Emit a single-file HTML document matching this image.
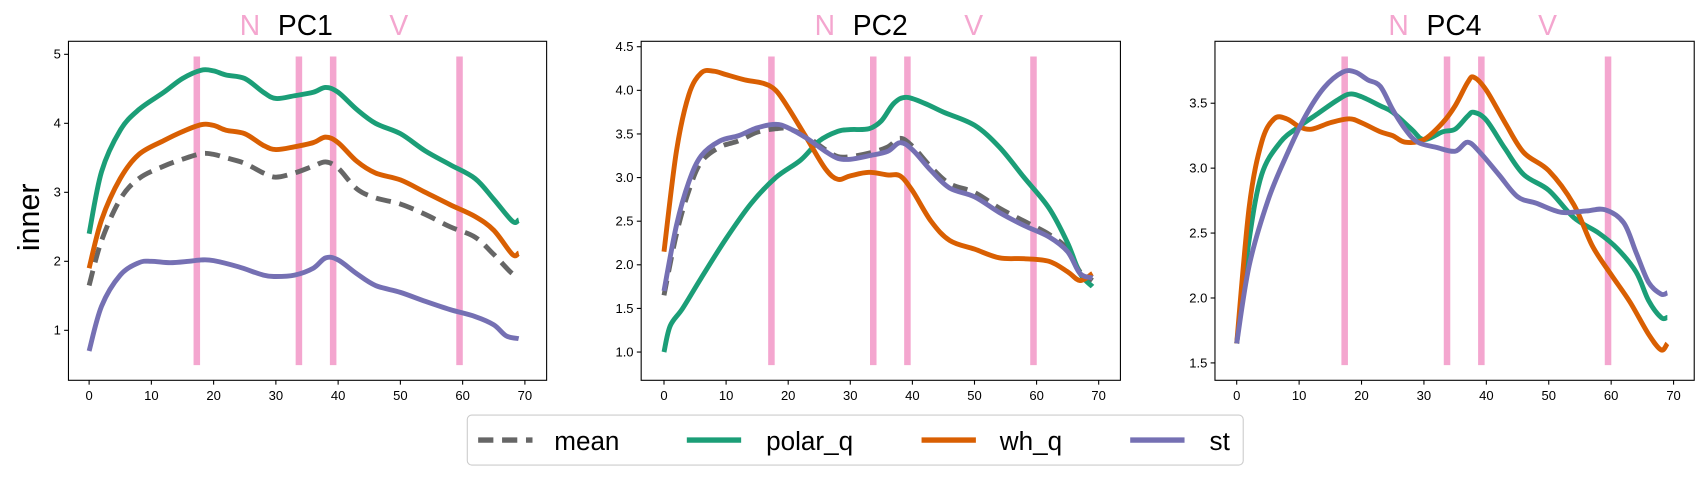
<!DOCTYPE html>
<html><head><meta charset="utf-8"><style>
body{margin:0;background:#fff;}
svg text{font-family:"Liberation Sans","DejaVu Sans",sans-serif;}
</style></head><body>
<svg id="chart" width="1704" height="477" viewBox="0 0 1568 439" preserveAspectRatio="none" xmlns="http://www.w3.org/2000/svg">
<text x="0" y="0" transform="translate(36,200) rotate(-90)" font-size="28" text-anchor="middle">inner</text>
<g>
<rect x="430" y="382" width="714" height="46" rx="4" fill="#fff" stroke="#ccc"/>
<g><line x1="440" y1="405" x2="490" y2="405" stroke="#666" stroke-width="5" stroke-dasharray="14,8"/><text x="510" y="414" font-size="24">mean</text></g>
<g><line x1="632" y1="405" x2="682" y2="405" stroke="#1b9e77" stroke-width="5"/><text x="705" y="414" font-size="24">polar_q</text></g>
<g><line x1="848" y1="405" x2="898" y2="405" stroke="#d95f02" stroke-width="5"/><text x="920" y="414" font-size="24">wh_q</text></g>
<g><line x1="1040" y1="405" x2="1090" y2="405" stroke="#7570b3" stroke-width="5"/><text x="1113" y="414" font-size="24">st</text></g>
</g>
</svg>
<script>
const vlines=[17.3,33.7,39.2,59.5];
const p1Mean=[[0,1.65],[2,2.3],[5,2.9],[8,3.2],[12,3.38],[15,3.48],[18,3.56],[20,3.55],[22,3.5],[25,3.42],[28,3.28],[30,3.22],[33,3.28],[36,3.38],[38,3.44],[40,3.35],[43,3.05],[46,2.92],[50,2.83],[54,2.68],[58,2.5],[62,2.35],[65,2.1],[68,1.82],[69,1.82]];
const p1Polar=[[0,2.4],[2,3.3],[5,3.9],[8,4.2],[12,4.45],[15,4.65],[18,4.77],[20,4.76],[22,4.7],[25,4.65],[28,4.45],[30,4.36],[33,4.4],[36,4.45],[38,4.52],[40,4.45],[43,4.2],[46,4.0],[50,3.85],[54,3.6],[58,3.4],[62,3.2],[65,2.9],[68,2.58],[69,2.6]];
const p1Wh=[[0,1.9],[2,2.6],[5,3.2],[8,3.55],[12,3.75],[15,3.88],[18,3.98],[20,3.97],[22,3.9],[25,3.85],[28,3.68],[30,3.62],[33,3.66],[36,3.72],[38,3.8],[40,3.72],[43,3.45],[46,3.28],[50,3.18],[54,3.0],[58,2.82],[62,2.65],[65,2.45],[68,2.1],[69,2.12]];
const p1St=[[0,0.7],[2,1.35],[5,1.8],[8,1.98],[10,2.0],[13,1.98],[16,2.0],[18,2.02],[20,2.01],[24,1.92],[28,1.8],[30,1.78],[33,1.8],[36,1.9],[38,2.05],[40,2.02],[43,1.82],[46,1.65],[50,1.55],[54,1.42],[58,1.3],[62,1.2],[65,1.08],[67,0.92],[69,0.88]];
const p2Mean=[[0,1.65],[2,2.35],[4,2.85],[6,3.18],[9,3.35],[12,3.42],[15,3.52],[18,3.56],[20,3.56],[23,3.47],[26,3.32],[28,3.24],[30,3.24],[33,3.28],[36,3.35],[38,3.45],[40,3.36],[43,3.12],[46,2.93],[50,2.83],[54,2.65],[58,2.5],[62,2.35],[65,2.18],[67,1.92],[69,1.82]];
const p2Polar=[[0,1.0],[1,1.3],[3,1.5],[6,1.85],[10,2.3],[14,2.7],[18,3.0],[22,3.2],[25,3.42],[28,3.53],[30,3.55],[33,3.56],[35,3.65],[37,3.85],[39,3.92],[42,3.85],[45,3.75],[50,3.6],[54,3.35],[58,3.0],[62,2.65],[65,2.25],[67,1.9],[69,1.75]];
const p2Wh=[[0,2.15],[2,3.3],[4,3.95],[6,4.2],[8,4.22],[10,4.18],[13,4.12],[16,4.08],[18,4.0],[20,3.8],[23,3.45],[26,3.1],[28,2.98],[30,3.02],[33,3.06],[36,3.03],[38,3.02],[40,2.85],[43,2.5],[46,2.28],[50,2.18],[54,2.08],[58,2.07],[62,2.04],[65,1.92],[67,1.82],[69,1.9]];
const p2St=[[0,1.7],[2,2.45],[4,2.95],[6,3.25],[9,3.42],[12,3.48],[15,3.57],[18,3.61],[20,3.57],[23,3.45],[26,3.3],[28,3.22],[30,3.21],[33,3.25],[36,3.3],[38,3.4],[40,3.32],[43,3.08],[46,2.88],[50,2.78],[54,2.6],[58,2.45],[62,2.32],[65,2.15],[67,1.9],[69,1.85]];
const p3Polar=[[0,1.65],[2,2.45],[4,2.95],[7,3.2],[10,3.32],[13,3.42],[16,3.52],[18,3.57],[20,3.55],[23,3.48],[25,3.43],[28,3.3],[30,3.22],[33,3.28],[35,3.3],[37,3.4],[38,3.43],[40,3.37],[43,3.15],[46,2.95],[50,2.83],[54,2.62],[58,2.5],[61,2.38],[64,2.2],[66,1.98],[68,1.85],[69,1.85]];
const p3Mean=p3Polar;
const p3Wh=[[0,1.65],[2,2.7],[4,3.2],[6,3.38],[8,3.38],[10,3.32],[12,3.3],[15,3.35],[18,3.38],[20,3.35],[23,3.28],[25,3.25],[27,3.2],[30,3.22],[33,3.35],[35,3.48],[37,3.66],[38,3.7],[40,3.6],[43,3.35],[46,3.12],[50,2.98],[54,2.72],[57,2.4],[60,2.18],[63,1.97],[66,1.72],[68,1.6],[69,1.65]];
const p3St=[[0,1.65],[2,2.25],[5,2.75],[8,3.1],[11,3.4],[14,3.62],[17,3.74],[19,3.74],[21,3.68],[23,3.63],[25,3.45],[27,3.3],[29,3.2],[32,3.16],[35,3.13],[37,3.2],[39,3.12],[42,2.95],[45,2.78],[48,2.73],[52,2.66],[56,2.67],[59,2.68],[62,2.58],[64,2.35],[66,2.12],[68,2.03],[69,2.04]];
const xTicks=[0,10,20,30,40,50,60,70];
const yTicks1=[1,2,3,4,5], yTicks2=[1.0,1.5,2.0,2.5,3.0,3.5,4.0,4.5], yTicks3=[1.5,2.0,2.5,3.0,3.5];
const titles=["PC1","PC2","PC4"];

const NS="http://www.w3.org/2000/svg";
const svg=document.getElementById('chart');
function mk(tag,attrs,parent){const e=document.createElementNS(NS,tag);for(const k in attrs)e.setAttribute(k,attrs[k]);(parent||svg).appendChild(e);return e;}
function smooth(pts){let d=`M${pts[0][0]},${pts[0][1]}`;for(let i=0;i<pts.length-1;i++){const p0=pts[Math.max(0,i-1)],p1=pts[i],p2=pts[i+1],p3=pts[Math.min(pts.length-1,i+2)];
d+=` C${p1[0]+(p2[0]-p0[0])/6},${p1[1]+(p2[1]-p0[1])/6} ${p2[0]-(p3[0]-p1[0])/6},${p2[1]-(p3[1]-p1[1])/6} ${p2[0]},${p2[1]}`;}return d;}
const panels=[
 {L:63,R:503,T:38,B:350,x0:82,x1:483,ya:5,yaPx:50,yb:1,ybPx:304,ticks:yTicks1,fmt:v=>String(v),series:[p1Mean,p1Polar,p1Wh,p1St],tx:281},
 {L:590,R:1031,T:38,B:350,x0:611,x1:1011,ya:4.5,yaPx:43,yb:1.0,ybPx:324,ticks:yTicks2,fmt:v=>v.toFixed(1),series:[p2Mean,p2Polar,p2Wh,p2St],tx:810},
 {L:1118,R:1559,T:38,B:350,x0:1138,x1:1540,ya:3.5,yaPx:95,yb:1.5,ybPx:334,ticks:yTicks3,fmt:v=>v.toFixed(1),series:[p3Mean,p3Polar,p3Wh,p3St],tx:1338}
];
const cols=["#666666","#1b9e77","#d95f02","#7570b3"];
const names=["mean","polar-q","wh-q","st"];
panels.forEach((p,pi)=>{
 const X=v=>p.x0+(v/70)*(p.x1-p.x0);
 const Y=v=>p.ybPx+(v-p.yb)*(p.yaPx-p.ybPx)/(p.ya-p.yb);
 const g=mk('g',{});
 
 
 const t=mk('text',{x:p.tx,y:32,'font-size':26,'text-anchor':'middle'},g);t.textContent=titles[pi];
 
 
 const n=mk('text',{x:p.tx-51,y:32,'font-size':26,'text-anchor':'middle',fill:'#f4a6cf'},g);n.textContent='N';
 
 
 const v=mk('text',{x:p.tx+86,y:32,'font-size':26,'text-anchor':'middle',fill:'#f4a6cf'},g);v.textContent='V';
 
 
 vlines.forEach(x=>{const l=mk('line',{x1:X(x),x2:X(x),y1:52,y2:336,stroke:'#f4a6cf','stroke-width':6},g);
  
  });
 p.series.forEach((s,si)=>{
  if(pi===2&&si===0)return;
  const path=mk('path',{d:smooth(s.map(q=>[X(q[0]),Y(q[1])])),fill:'none',stroke:cols[si],'stroke-width':4.5,'stroke-linecap':'butt','stroke-linejoin':'round'},g);
  if(si===0)path.setAttribute('stroke-dasharray','14,8');
  
  
 });
 const fr=mk('rect',{x:p.L,y:p.T,width:p.R-p.L,height:p.B-p.T,fill:'none',stroke:'#000','stroke-width':1},g);
 
 
 xTicks.forEach(x=>{mk('line',{x1:X(x),x2:X(x),y1:p.B,y2:p.B+4,stroke:'#000'},g);
  const tt=mk('text',{x:X(x),y:p.B+18,'font-size':12,'text-anchor':'middle'},g);tt.textContent=x;
  
  });
 p.ticks.forEach(y=>{mk('line',{x1:p.L-4,x2:p.L,y1:Y(y),y2:Y(y),stroke:'#000'},g);
  const tt=mk('text',{x:p.L-7,y:Y(y)+4,'font-size':12,'text-anchor':'end'},g);tt.textContent=p.fmt(y);
  
  });
});
</script>
</body></html>
